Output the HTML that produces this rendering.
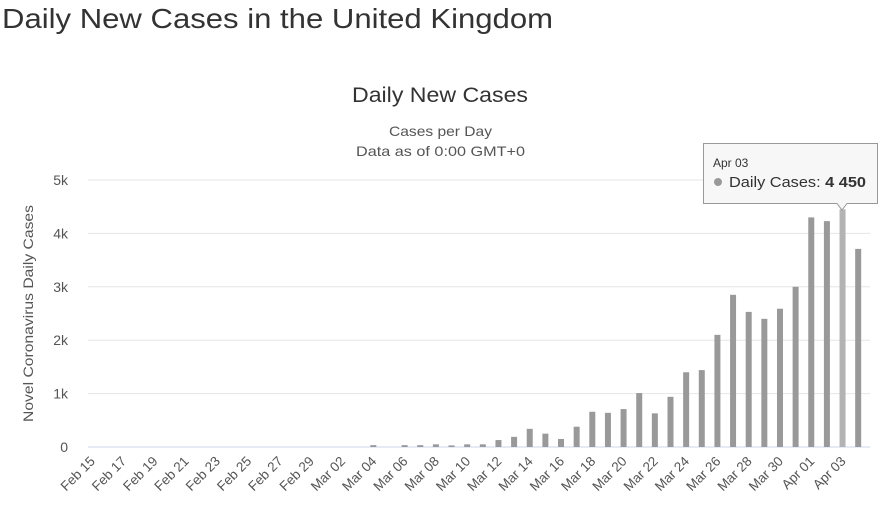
<!DOCTYPE html>
<html><head><meta charset="utf-8"><style>
body{margin:0;background:#fff;font-family:"Liberation Sans",sans-serif;}
svg text{font-family:"Liberation Sans",sans-serif;}
</style></head><body>
<svg width="884" height="502">
<text x="2" y="28" font-size="28" fill="#333" textLength="551" lengthAdjust="spacingAndGlyphs">Daily New Cases in the United Kingdom</text>
<text x="352" y="102" font-size="21" fill="#333" textLength="176" lengthAdjust="spacingAndGlyphs">Daily New Cases</text>
<text x="389" y="136" font-size="14" fill="#555" textLength="103" lengthAdjust="spacingAndGlyphs">Cases per Day</text>
<text x="356" y="156" font-size="14" fill="#555" textLength="169" lengthAdjust="spacingAndGlyphs">Data as of 0:00 GMT+0</text>
<text transform="translate(33,422) rotate(-90)" font-size="14" fill="#555" textLength="217" lengthAdjust="spacingAndGlyphs">Novel Coronavirus Daily Cases</text>
<g id="grid"></g><g id="bars"></g><g id="xl"></g>
<g>
<path d="M703.5 143.5 H877.5 V203.5 H847 L842 210 L837 203.5 H703.5 Z" fill="#f7f7f7" stroke="#999"/>
<text x="713" y="167" font-size="12" fill="#333">Apr 03</text>
<circle cx="718" cy="182" r="4" fill="#999"/>
<text x="729" y="187" font-size="15" fill="#333" textLength="137" lengthAdjust="spacingAndGlyphs">Daily Cases: <tspan font-weight="bold">4 450</tspan></text>
</g>
</svg>
<script>
const categories=[];
const months=[["Feb",15,29],["Mar",1,31],["Apr",1,4]];
for(const [m,a,b] of months)for(let d=a;d<=b;d++)categories.push(m+" "+String(d).padStart(2,"0"));
const values=[0,0,0,0,0,0,0,0,0,0,0,0,0,0,0, 0,0,0,35,0,35,35,50,30,50,50,130,190,340,250,150,380,660,640,710,1010,630,940,1400,1440,2100,2850,2530,2400,2590,3000,4300,4230,4450,3710];
const yTicks=[0,1000,2000,3000,4000,5000];
const yTickLabels=["0","1k","2k","3k","4k","5k"];
const NS="http://www.w3.org/2000/svg";
const x0=84,x1=866,yb=447,yt=180,ymax=5000;
const step=(x1-x0)/categories.length;
const y=v=>yb-(v/ymax)*(yb-yt);
const xc=i=>x0+(i+0.5)*step;
function mk(t,a,p){const e=document.createElementNS(NS,t);for(const k in a)e.setAttribute(k,a[k]);p.appendChild(e);return e;}
const g=document.getElementById("grid"),b=document.getElementById("bars"),xl=document.getElementById("xl");
yTicks.forEach((v,i)=>{
 const l=mk("line",{x1:88,x2:870,y1:y(v),y2:y(v),stroke:i?"#e6e6e6":"#ccd6eb"},g);
 
 
 const t=mk("text",{x:68,y:y(v)+5,"font-size":14,fill:"#555","text-anchor":"end"},g);
 t.textContent=yTickLabels[i];
 
 
});
values.forEach((v,i)=>{
 if(v<=0)return;
 const r=mk("rect",{x:xc(i)-3,y:y(v),width:6,height:yb-y(v),fill:i==48?"#b3b3b3":"#999"},b);
 
 
});
categories.forEach((c,i)=>{
 if(i%2)return;
 const t=mk("text",{x:xc(i)+4,y:462,"font-size":13.5,fill:"#555","text-anchor":"end",transform:`rotate(-45 ${xc(i)+4} 462)`},xl);
 t.textContent=c;
 
 
});
</script>
</body></html>
